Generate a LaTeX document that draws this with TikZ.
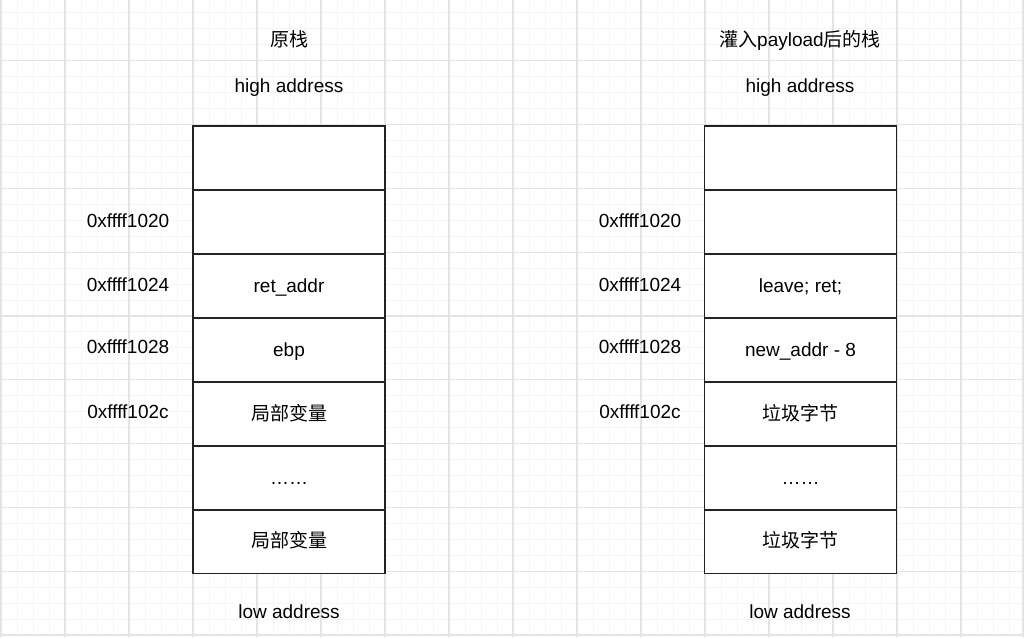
\documentclass[tikz,border=0pt]{standalone}
\usepackage{fontspec}
\setmainfont{Liberation Sans}
\newfontfamily\cjk{Noto Sans CJK SC}
\definecolor{gridmajor}{HTML}{E4E4E4}
\definecolor{gridminor}{HTML}{F5F5F5}
\definecolor{boxline}{HTML}{222222}
\begin{document}
\begin{tikzpicture}[x=0.75pt,y=-0.75pt,
  every node/.style={font=\fontsize{14.25}{17}\selectfont, text=black, text height=12pt, text depth=3pt},
  cell/.style={draw=boxline, line width=1.15pt, minimum width=144pt, minimum height=48pt, inner sep=0pt},
  lbl/.style={inner sep=0pt}]
\useasboundingbox (0,0) rectangle (1024,637);
\fill[white] (0,0) rectangle (1024,637);
% grid
\foreach \i in {0,...,64} {
  \draw[gridminor, line width=0.75pt] ({1+16*\i},0) -- ({1+16*\i},637);
}
\foreach \j in {0,...,40} {
  \draw[gridminor, line width=0.75pt] (0,{-3+15.95*\j}) -- (1024,{-3+15.95*\j});
}
\foreach \i in {0,...,16} {
  \draw[gridmajor, line width=0.9pt] ({1+64*\i},0) -- ({1+64*\i},637);
}
\foreach \j in {1,...,10} {
  \draw[gridmajor, line width=0.9pt] (0,{-3+63.8*\j}) -- (1024,{-3+63.8*\j});
}
\draw[gridmajor, line width=0.9pt] (1023,0) -- (1023,637);
\draw[gridmajor, line width=0.9pt] (0,635.5) -- (1024,635.5);

% white backgrounds of the stacks
\fill[white] (193,126) rectangle (385,573);
\fill[white] (704.5,126) rectangle (896.5,573);

% left stack
\node[lbl] (t1) at (289,40) {\cjk 原栈};
\node[lbl] (h1) at (289,86) {high address};
\node[cell] (a1) at (289,158) {};
\node[cell] (a2) at (289,222) {};
\node[cell] (a3) at (289,286) {ret\_addr};
\node[cell] (a4) at (289,350) {ebp};
\node[cell] (a5) at (289,414) {\cjk 局部变量};
\node[cell] (a6) at (289,478) {……};
\node[cell] (a7) at (289,541.5) {\cjk 局部变量};
\node[lbl] (l1) at (289,612) {low address};
\node[lbl] (p1) at (128,221) {0xffff1020};
\node[lbl] (p2) at (128,285) {0xffff1024};
\node[lbl] (p3) at (128,347) {0xffff1028};
\node[lbl] (p4) at (128,412) {0xffff102c};

% right stack
\node[lbl] (t2) at (800,40) {{\cjk 灌入}payload{\cjk 后的栈}};
\node[lbl] (h2) at (800,86) {high address};
\node[cell] (b1) at (800.5,158) {};
\node[cell] (b2) at (800.5,222) {};
\node[cell] (b3) at (800.5,286) {leave; ret;};
\node[cell] (b4) at (800.5,350) {new\_addr - 8};
\node[cell] (b5) at (800.5,414) {\cjk 垃圾字节};
\node[cell] (b6) at (800.5,478) {……};
\node[cell] (b7) at (800.5,541.5) {\cjk 垃圾字节};
\node[lbl] (l2) at (800,612) {low address};
\node[lbl] (q1) at (640,221) {0xffff1020};
\node[lbl] (q2) at (640,285) {0xffff1024};
\node[lbl] (q3) at (640,347) {0xffff1028};
\node[lbl] (q4) at (640,412) {0xffff102c};
\end{tikzpicture}
\end{document}
